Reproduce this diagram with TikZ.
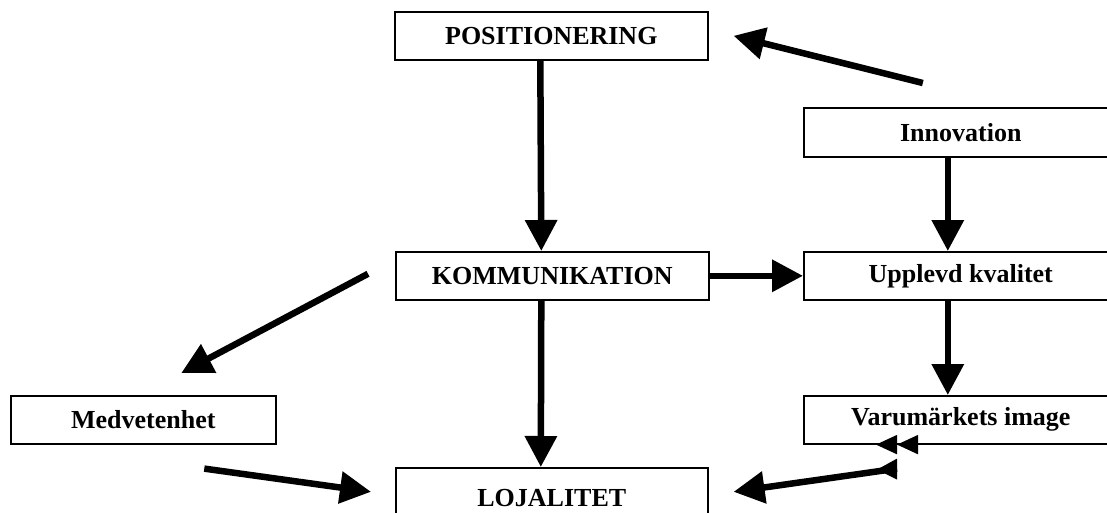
\documentclass[tikz,border=0pt]{standalone}
\usepackage{fontspec}
\setmainfont{Liberation Serif}
\usetikzlibrary{arrows.meta,calc}
\begin{document}
\begin{tikzpicture}[x=1pt,y=-1pt,
  box/.style={draw,line width=1.6pt,inner sep=0pt,anchor=north west,
    font=\fontsize{26}{30}\selectfont\bfseries},
  wide/.style={minimum width=313pt,minimum height=48pt},
  flow/.style={line width=6.5pt,-{Triangle[length=31pt,width=31pt]}},
  small/.style={line width=1.6pt,
    -{Triangle[length=21pt,width=19pt,sep=0pt]Triangle[length=21pt,width=19pt,sep=0pt]}},
]
\useasboundingbox (0,0) rectangle (1107,512);
\clip (0,0) rectangle (1107,512);

% boxes
\node[box,wide] (pos)   at (394,11)  {POSITIONERING};
\node[box,wide] (komm)  at (395,251) {KOMMUNIKATION};
\node[box,minimum width=312pt,minimum height=60pt] (loj) at (395,467) {LOJALITET};
\node[box,minimum width=314pt,minimum height=49pt] (innov) at (803,107) {Innovation};
\node[box,minimum width=314pt,minimum height=48pt] (upp)   at (803,251) {Upplevd kvalitet};
\node[box,minimum width=314pt,minimum height=48pt] (varu)  at (803,395) {Varumärkets image};
\node[box,minimum width=265pt,minimum height=48pt] (medv)  at (10,395)  {Medvetenhet};

% free ends of the connectors
\coordinate (innovout) at ($(innov.north)+(-38,-24)$);
\coordinate (posin)    at ($(pos.east)+(25,0)$);
\coordinate (kommout)  at ($(komm.west)+(-27,-2)$);
\coordinate (medvin)   at ($(medv.north)+(38,-22)$);
\coordinate (medvout)  at ($(medv.south)+(61,24)$);
\coordinate (lojwin)   at ($(loj.west)+(-24,-6)$);
\coordinate (lojein)   at ($(loj.east)+(25,-6)$);
\coordinate (varuout)  at ($(varu.south west)+(94,24)$);
\coordinate (edgeA)    at ($(varu.south west)+(125,0)$);
\coordinate (edgeB)    at ($(varu.south west)+(73,0)$);

% connectors
\draw[flow] ([xshift=-11pt]pos.south) -- ([xshift=-11pt]komm.north);
\draw[flow] ([xshift=-11pt]komm.south) -- ([xshift=-11pt]loj.north);
\draw[flow] (komm.east) -- (upp.west);
\draw[flow] ([xshift=-13pt]innov.south) -- ([xshift=-13pt]upp.north);
\draw[flow] ([xshift=-13pt]upp.south) -- ([xshift=-13pt]varu.north);
\draw[flow] (innovout) -- (posin);
\draw[flow] (kommout) -- (medvin);
\draw[flow] (medvout) -- (lojwin);
\draw[flow] (varuout) -- (lojein);
\fill ($(varuout)+(0,-10)$) -- ($(varuout)+(-20,1)$) -- ($(varuout)+(0,11)$) -- cycle;
\draw[small] (edgeA) -- (edgeB);
\end{tikzpicture}
\end{document}
